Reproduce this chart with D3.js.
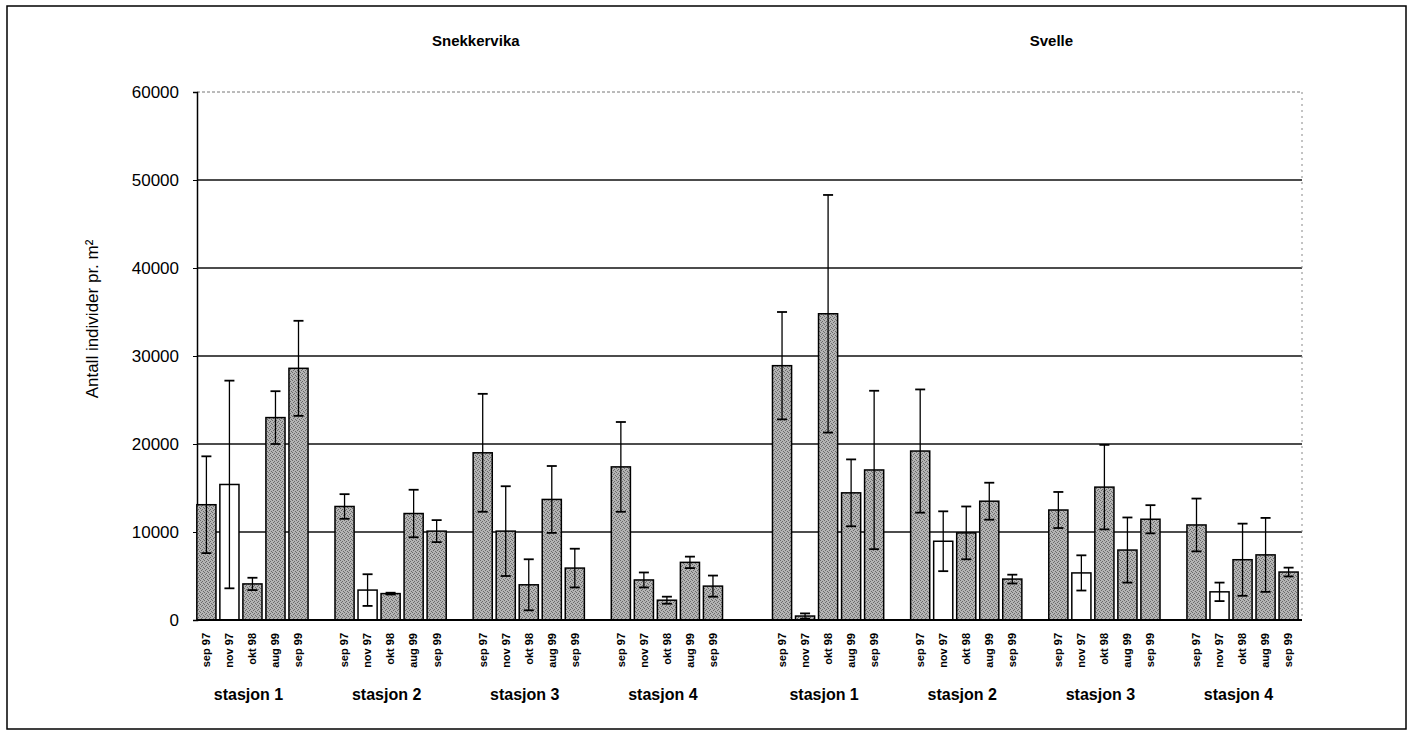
<!DOCTYPE html>
<html>
<head>
<meta charset="utf-8">
<script src="https://cdn.jsdelivr.net/npm/d3@7"></script>
<style>
  body { margin: 0; background: #fff; }
  text { font-family: "Liberation Sans", Arial, sans-serif; fill: #000; }
</style>
</head>
<body>
<div class="chart"></div>
<script>
var W = 1411, H = 734;

// data
var sites = ['Snekkervika', 'Svelle'];
var stations = ['stasjon 1', 'stasjon 2', 'stasjon 3', 'stasjon 4'];
var dates = ['sep 97', 'nov 97', 'okt 98', 'aug 99', 'sep 99'];
var yTicks = [0, 10000, 20000, 30000, 40000, 50000, 60000];

// mean per station, dates in order sep 97 .. sep 99
var snekkervikaMean = [
  13100, 15400, 4100, 23000, 28600,
  12900, 3400, 3000, 12100, 10100,
  19000, 10100, 4000, 13700, 5900,
  17400, 4550, 2250, 6550, 3850
];
var snekkervikaErr = [
  5500, 11800, 700, 3000, 5400,
  1400, 1800, 100, 2700, 1250,
  6700, 5100, 2900, 3800, 2200,
  5100, 850, 400, 650, 1200
];
var svelleMean = [
  28900, 450, 34800, 14450, 17050,
  19200, 8950, 9900, 13500, 4650,
  12500, 5350, 15100, 7950, 11450,
  10800, 3200, 6850, 7400, 5450
];
var svelleErr = [
  6100, 300, 13500, 3800, 9000,
  7000, 3400, 3000, 2100, 500,
  2050, 2000, 4800, 3700, 1600,
  3000, 1050, 4100, 4200, 500
];
// 'b' = the open (white) bars in the figure
var snekkervikaType = [
  'a','b','a','a','a',
  'a','b','a','a','a',
  'a','a','a','a','a',
  'a','a','a','a','a'
];
var svelleType = [
  'a','a','a','a','a',
  'a','b','a','a','a',
  'a','b','a','a','a',
  'a','b','a','a','a'
];

var means = [snekkervikaMean, svelleMean];
var errs = [snekkervikaErr, svelleErr];
var types = [snekkervikaType, svelleType];

// slot layout: 5 bars + 1 gap per station, 2 extra gap slots between sites
var slotOf = function (s, k, d) { return s * 25 + k * 6 + d; };
var nSlots = 48;

var rows = [];
sites.forEach(function (site, s) {
  stations.forEach(function (st, k) {
    dates.forEach(function (dt, d) {
      var i = k * 5 + d;
      rows.push({
        site: site, station: st, date: dt,
        slot: slotOf(s, k, d),
        value: means[s][i], err: errs[s][i], type: types[s][i]
      });
    });
  });
});

var plot = { left: 197, right: 1302, top: 92, bottom: 620 };

var x = d3.scaleBand()
  .domain(d3.range(nSlots))
  .range([195, 1300])
  .paddingInner(0.17)
  .paddingOuter(0.08);

var y = d3.scaleLinear()
  .domain([0, 60000])
  .range([plot.bottom, plot.top]);

var svg = d3.select('.chart')
  .append('svg')
  .attr('width', W)
  .attr('height', H);

// stippled grey like the scanned print
var pat = svg.append('defs').append('pattern')
  .attr('id', 'stipple')
  .attr('patternUnits', 'userSpaceOnUse')
  .attr('width', 4).attr('height', 4);
pat.append('rect').attr('width', 4).attr('height', 4).attr('fill', '#b4b4b4');
[[0, 0], [2, 1], [1, 2], [3, 3]].forEach(function (p) {
  pat.append('rect').attr('x', p[0]).attr('y', p[1])
    .attr('width', 1).attr('height', 1).attr('fill', '#6a6a6a');
});

var fill = d3.scaleOrdinal()
  .domain(['a', 'b'])
  .range(['url(#stipple)', '#ffffff']);

// outer frame
svg.append('rect')
  .attr('x', 7).attr('y', 6)
  .attr('width', 1399).attr('height', 723)
  .attr('fill', 'none')
  .attr('stroke', '#000')
  .attr('stroke-width', 1.5);

// grid lines
svg.selectAll('line.grid')
  .data(yTicks.filter(function (t) { return t > 0; }))
  .enter()
  .append('line')
  .attr('class', 'grid')
  .attr('x1', plot.left).attr('x2', plot.right)
  .attr('y1', function (d) { return y(d); })
  .attr('y2', function (d) { return y(d); })
  .attr('stroke', function (d) { return d === 60000 ? '#777' : '#111'; })
  .attr('stroke-width', function (d) { return d === 60000 ? 1 : 1.5; })
  .attr('stroke-dasharray', function (d) { return d === 60000 ? '3,2' : null; });

// right edge of plot area
svg.append('line')
  .attr('x1', plot.right).attr('x2', plot.right)
  .attr('y1', plot.top).attr('y2', plot.bottom)
  .attr('stroke', '#888')
  .attr('stroke-dasharray', '2,4');

// y axis
var yAxis = d3.axisLeft(y)
  .tickValues(yTicks)
  .tickSize(4)
  .tickPadding(14)
  .tickFormat(d3.format('d'));

var gy = svg.append('g')
  .attr('transform', 'translate(' + plot.left + ',0)')
  .call(yAxis);
gy.select('.domain').attr('stroke', '#000').attr('stroke-width', 1.5);
gy.selectAll('.tick line').attr('stroke', '#000');
gy.selectAll('.tick text')
  .attr('font-size', 17)
  .attr('font-family', '"Liberation Sans", Arial, sans-serif')
  .attr('fill', '#000');

svg.append('text')
  .attr('transform', 'translate(98,' + 319 + ') rotate(-90)')
  .attr('text-anchor', 'middle')
  .attr('font-size', 17)
  .text('Antall individer pr. m\u00b2');

// bars
svg.selectAll('rect.bar')
  .data(rows)
  .enter()
  .append('rect')
  .attr('class', 'bar')
  .attr('x', function (d) { return x(d.slot); })
  .attr('width', x.bandwidth())
  .attr('y', function (d) { return y(d.value); })
  .attr('height', function (d) { return y(0) - y(d.value); })
  .attr('fill', function (d) { return fill(d.type); })
  .attr('stroke', '#000')
  .attr('stroke-width', 1.5);

// error bars
var eb = svg.selectAll('g.err')
  .data(rows)
  .enter()
  .append('g')
  .attr('class', 'err')
  .attr('transform', function (d) { return 'translate(' + (x(d.slot) + x.bandwidth() / 2) + ',0)'; });

eb.append('line')
  .attr('y1', function (d) { return y(Math.max(0, d.value - d.err)); })
  .attr('y2', function (d) { return y(d.value + d.err); })
  .attr('stroke', '#000')
  .attr('stroke-width', 1.3);

eb.selectAll('line.cap')
  .data(function (d) { return [Math.max(0, d.value - d.err), d.value + d.err]; })
  .enter()
  .append('line')
  .attr('class', 'cap')
  .attr('x1', -5).attr('x2', 5)
  .attr('y1', function (v) { return y(v); })
  .attr('y2', function (v) { return y(v); })
  .attr('stroke', '#000')
  .attr('stroke-width', 1.8);

// baseline
svg.append('line')
  .attr('x1', plot.left).attr('x2', plot.right)
  .attr('y1', y(0)).attr('y2', y(0))
  .attr('stroke', '#000')
  .attr('stroke-width', 1.8);

// date labels, rotated
svg.selectAll('text.date')
  .data(rows)
  .enter()
  .append('text')
  .attr('class', 'date')
  .attr('transform', function (d) {
    return 'translate(' + (x(d.slot) + x.bandwidth() / 2) + ',' + (y(0) + 13) + ') rotate(-90)';
  })
  .attr('text-anchor', 'end')
  .attr('dy', '0.35em')
  .attr('font-size', 11)
  .attr('font-weight', 'bold')
  .text(function (d) { return d.date; });

// station labels
var groups = [];
sites.forEach(function (site, s) {
  stations.forEach(function (st, k) {
    groups.push({ site: site, station: st, first: slotOf(s, k, 0), last: slotOf(s, k, 4) });
  });
});

svg.selectAll('text.station')
  .data(groups)
  .enter()
  .append('text')
  .attr('class', 'station')
  .attr('x', function (d) { return (x(d.first) + x(d.last) + x.bandwidth()) / 2 - 4; })
  .attr('y', 700)
  .attr('text-anchor', 'middle')
  .attr('font-size', 16)
  .attr('font-weight', 'bold')
  .text(function (d) { return d.station; });

// site titles
svg.selectAll('text.site')
  .data(sites)
  .enter()
  .append('text')
  .attr('class', 'site')
  .attr('x', function (d, s) {
    var a = x(slotOf(s, 0, 0)), b = x(slotOf(s, 3, 4)) + x.bandwidth();
    return (a + b) / 2 + x.step() * 0.7;
  })
  .attr('y', 46)
  .attr('text-anchor', 'middle')
  .attr('font-size', 15)
  .attr('font-weight', 'bold')
  .text(function (d) { return d; });
</script>
</body>
</html>
